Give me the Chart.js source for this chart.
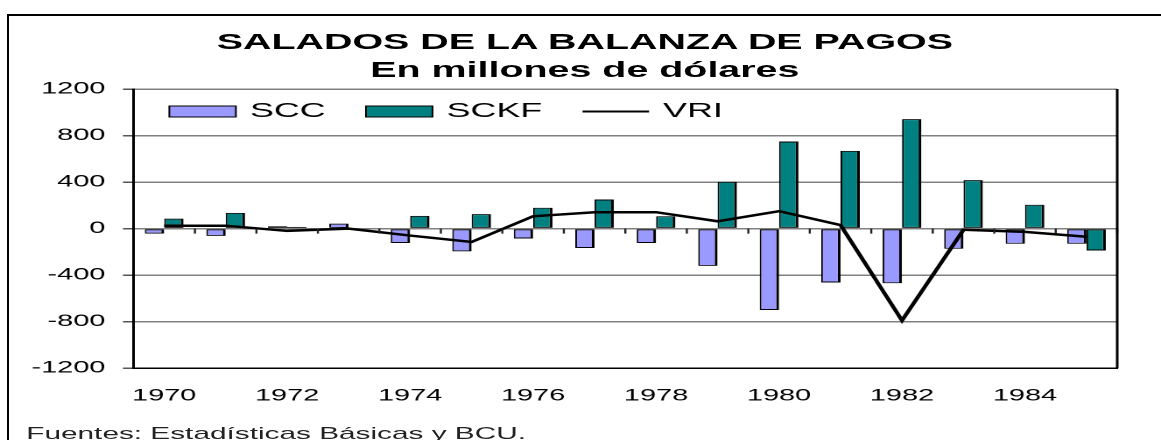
<!DOCTYPE html>
<html>
<head>
<meta charset="utf-8">
<title>Salados de la Balanza de Pagos</title>
<script src="https://cdn.jsdelivr.net/npm/chart.js@4.4.1/dist/chart.umd.min.js"></script>
<style>
    html, body {
        margin: 0;
        padding: 0;
        background: #fff;
        overflow: hidden;
    }
    #frame {
        position: absolute;
        left: 7px;
        top: 14px;
        width: 1200px;
        height: 500px;
        border-top: 2px solid #000;
        border-left: 2px solid #000;
    }
    /* the original is stretched horizontally, so the whole chart is drawn narrow and widened */
    #stage {
        position: absolute;
        left: 0;
        top: 0;
        width: 663px;
        height: 440px;
        transform: scaleX(1.7511);
        transform-origin: 0 0;
    }
    #chartBox {
        position: absolute;
        left: 0;
        top: 0;
        width: 663px;
        height: 440px;
    }
    #chartTitle {
        position: absolute;
        left: 0;
        top: 28px;
        width: 668px;
        text-align: center;
        font: bold 22.5px/28px 'Liberation Sans', Arial, sans-serif;
        color: #000;
        white-space: nowrap;
    }
    #source {
        position: absolute;
        left: 15px;
        top: 425px;
        font: 17px/17px 'Liberation Sans', Arial, sans-serif;
        color: #222;
        white-space: nowrap;
    }
</style>
</head>
<body>
<div id="frame"></div>
<div id="stage">
    <div id="chartBox"><canvas id="balanzaChart"></canvas></div>
    <div id="chartTitle">SALADOS DE LA BALANZA DE PAGOS<br>En millones de dólares</div>
    <div id="source">Fuentes: Estadísticas Básicas y BCU.</div>
</div>

<script>
// ===== DATA =====
const years = ['1970', '1971', '1972', '1973', '1974', '1975', '1976', '1977',
               '1978', '1979', '1980', '1981', '1982', '1983', '1984', '1985'];

// SCC - saldo cuenta corriente
const sccValues = [-43, -63, 20, 43, -124, -196, -85, -167, -124, -320, -700, -463, -470, -173, -130, -130];

// SCKF - saldo cuenta capital
const sckfValues = [86, 135, 15, 0, 109, 124, 179, 250, 106, 403, 749, 668, 941, 417, 205, -188];

// VRI - variacion de reservas
const vriValues = [25, 25, -20, 0, -60, -115, 106, 141, 141, 63, 150, 30, -790, -10, -28, -70];

const yMin = -1200;
const yMax = 1200;
const yStep = 400;

const FONT = "'Liberation Sans', Arial, sans-serif";

// Plot frame extras: right edge, tick marks on the zero line, and the legend inside the plot
const plotExtras = {
    id: 'plotExtras',
    afterDatasetsDraw(chart) {
        const { ctx, scales } = chart;
        const zeroY = scales.y.getPixelForValue(0);
        ctx.save();
        ctx.strokeStyle = '#222';
        ctx.lineWidth = 1.2;
        ctx.beginPath();
        for (let i = 1; i <= years.length; i++) {
            const px = scales.x.getPixelForValue(i - 0.5);
            ctx.moveTo(px, zeroY);
            ctx.lineTo(px, zeroY + 5);
        }
        ctx.stroke();
        ctx.restore();
    },
    afterDraw(chart) {
        const { ctx, chartArea } = chart;
        ctx.save();

        ctx.strokeStyle = '#000';
        ctx.lineWidth = 1.5;
        ctx.beginPath();
        ctx.moveTo(chartArea.right, chartArea.top);
        ctx.lineTo(chartArea.right, chartArea.bottom);
        ctx.stroke();

        ctx.font = '20.5px ' + FONT;
        ctx.textBaseline = 'middle';
        ctx.textAlign = 'left';

        const boxW = 38;
        const boxH = 11;
        const y = chartArea.top + 22.5;
        let x = chartArea.left + 20.5;

        chart.data.datasets.forEach(ds => {
            if (ds.type === 'line') {
                ctx.strokeStyle = ds.borderColor;
                ctx.lineWidth = 2;
                ctx.beginPath();
                ctx.moveTo(x, y);
                ctx.lineTo(x + boxW, y);
                ctx.stroke();
            } else {
                ctx.fillStyle = ds.backgroundColor;
                ctx.fillRect(x, y - boxH / 2, boxW, boxH);
                ctx.strokeStyle = '#000';
                ctx.lineWidth = 1;
                ctx.strokeRect(x, y - boxH / 2, boxW, boxH);
            }
            x += boxW + 8;
            ctx.fillStyle = '#000';
            ctx.fillText(ds.label, x, y);
            x += ctx.measureText(ds.label).width + 23;
        });

        ctx.restore();
    }
};

document.addEventListener('DOMContentLoaded', function() {
    const ctx = document.getElementById('balanzaChart');

    const barBorder = { top: 1, bottom: 1, left: 1, right: 1.6 };

    new Chart(ctx, {
        type: 'bar',
        data: {
            labels: years,
            datasets: [
                {
                    label: 'SCC',
                    data: sccValues,
                    backgroundColor: '#9999ff',
                    borderColor: '#000',
                    borderWidth: barBorder,
                    borderSkipped: false,
                    categoryPercentage: 0.63,
                    barPercentage: 1.0,
                    order: 1
                },
                {
                    label: 'SCKF',
                    data: sckfValues,
                    backgroundColor: '#008080',
                    borderColor: '#000',
                    borderWidth: barBorder,
                    borderSkipped: false,
                    categoryPercentage: 0.63,
                    barPercentage: 1.0,
                    order: 1
                },
                {
                    type: 'line',
                    label: 'VRI',
                    data: vriValues,
                    borderColor: '#000',
                    borderWidth: 2.5,
                    pointRadius: 0,
                    tension: 0,
                    fill: false,
                    order: 0
                }
            ]
        },
        options: {
            responsive: true,
            maintainAspectRatio: false,
            animation: false,
            devicePixelRatio: 2,
            layout: {
                padding: { left: 8, right: 25, top: 89, bottom: 16 }
            },
            plugins: {
                legend: { display: false },
                tooltip: { enabled: false },
                title: { display: false }
            },
            scales: {
                x: {
                    offset: true,
                    grid: { display: true, drawOnChartArea: false, drawTicks: false },
                    border: { display: true, color: '#000', width: 1.5 },
                    ticks: {
                        autoSkip: false,
                        maxRotation: 0,
                        padding: 18,
                        color: '#000',
                        font: { family: FONT, size: 16.5 },
                        callback: function(value, index) {
                            return index % 2 === 0 ? this.getLabelForValue(value) : '';
                        }
                    }
                },
                y: {
                    min: yMin,
                    max: yMax,
                    ticks: {
                        stepSize: yStep,
                        padding: 10,
                        color: '#000',
                        font: { family: FONT, size: 16.5 },
                        callback: v => String(v)
                    },
                    grid: { color: '#808080', lineWidth: 1.5, tickLength: 6, tickColor: '#555' },
                    border: { display: true, color: '#000', width: 1.5 }
                }
            }
        },
        plugins: [plotExtras]
    });
});
</script>
</body>
</html>
